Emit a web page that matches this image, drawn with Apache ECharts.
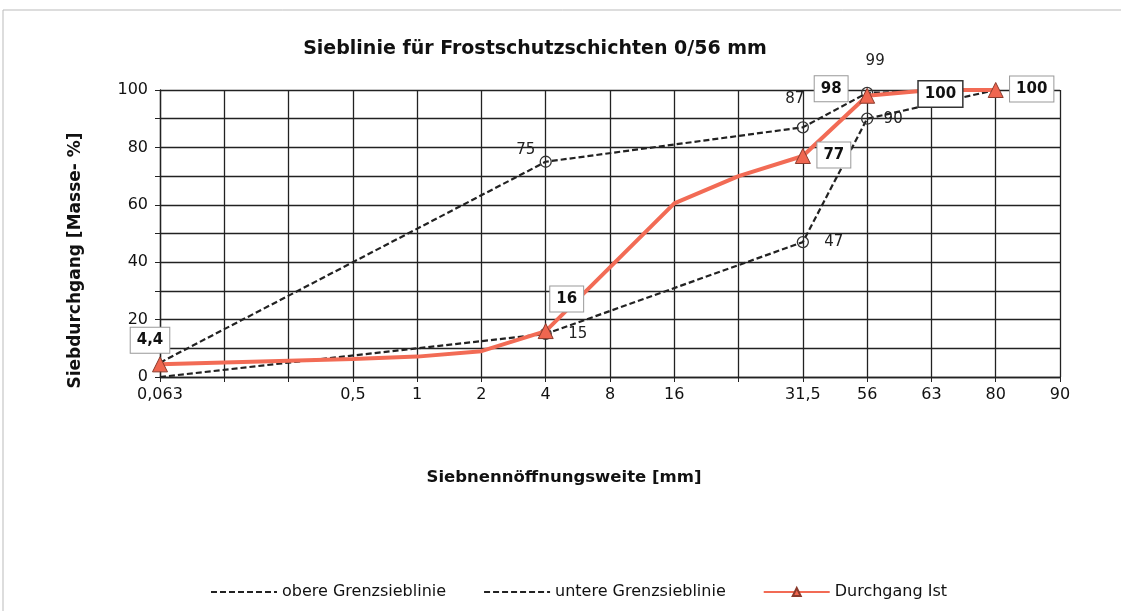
<!DOCTYPE html>
<html><head><meta charset="utf-8">
<script src="https://cdn.jsdelivr.net/npm/echarts@6/dist/echarts.min.js"></script>
<style>html,body{margin:0;padding:0;background:#fff}#c{width:1121px;height:611px}</style>
</head><body><div id="c"></div>
<script>
const sieveLabels = ['0,063','','','0,5','1','2','4','8','16','','31,5','56','63','80','90'];
const upperLimit = [5,null,null,null,null,null,75,null,null,null,87,99,null,100,null];
const lowerLimit = [0,null,null,null,null,null,15,null,null,null,47,90,null,100,null];
const actualPass = [4.4,null,null,6.3,7.1,9,16,null,60.5,70,77,98,100,100,null];

const FONT = '"DejaVu Sans", Arial, sans-serif';
// styling: which points show markers/labels, and label offsets
const upperMarks = {6:[-20,-12],10:[-8,-28],11:[8,-32],0:[17,-32]};
const lowerMarks = {6:[32,0],10:[31,0],11:[26,0]};
const actualMarks = {0:[-10,-24],6:[21,-32],10:[31,-1],11:[-36,-7],12:[9,4],13:[36,-1]};
const circleIdx = [6,10,11];
const triIdx = [0,6,10,11,12,13];

function blackData(vals, marks){
  return vals.map((v,i)=>{
    if(v===null) return null;
    const isC = circleIdx.includes(i);
    const o = {value:v, symbol: isC?'circle':'none'};
    if(isC) o.itemStyle = {color:'rgba(255,255,255,0)', borderColor:'#333', borderWidth:1.3};
    if(marks[i]) o.label = {show:true, offset:marks[i], position:'inside', formatter: String(v).replace('.',','), color:'#222', fontSize:15, fontFamily:FONT};
    return o;
  });
}
function redData(vals, marks){
  return vals.map((v,i)=>{
    if(v===null) return null;
    const o = {value:v, symbol: triIdx.includes(i)?'triangle':'none'};
    if(marks[i]) o.label = {show:true, offset:marks[i], position:'inside', formatter: String(v).replace('.',','),
      color:'#111', fontWeight:'bold', fontSize:15, fontFamily:FONT, backgroundColor:'#fff',
      borderColor: i===12?'#333':'#999', borderWidth: i===12?1.5:1, padding:[5,6,5,6]};
    return o;
  });
}

const chart = echarts.init(document.getElementById('c'), null, {renderer:'canvas'});
chart.setOption({
  backgroundColor:'#fff',
  animation:false,
  graphic:[{type:'rect', shape:{x:3,y:10,width:1130,height:620}, style:{fill:'none', stroke:'#bbb', lineWidth:1}, z:-1}],
  title:{text:'Sieblinie für Frostschutzschichten 0/56 mm', left:530, top:35, textAlign:'center',
    textStyle:{fontFamily:FONT, fontSize:19, fontWeight:'bold', color:'#111'}},
  grid:{left:160, right:61, top:90, bottom:234},
  legend:{top:579, left:205, itemWidth:66, itemHeight:10, itemGap:37,
    textStyle:{fontFamily:FONT, fontSize:16, color:'#111'},
    data:['obere Grenzsieblinie','untere Grenzsieblinie','Durchgang Ist']},
  xAxis:{type:'category', data:sieveLabels, boundaryGap:false,
    name:'Siebnennöffnungsweite [mm]', nameLocation:'middle', nameGap:92,
    nameTextStyle:{fontFamily:FONT, fontSize:16.5, fontWeight:'bold', color:'#111', padding:[0,92,0,0]},
    axisLine:{lineStyle:{color:'#222', width:1.3}},
    axisTick:{show:true, alignWithLabel:true, length:5, lineStyle:{color:'#222'}},
    axisLabel:{interval:0, fontFamily:FONT, fontSize:16, color:'#111', margin:10},
    splitLine:{show:true, interval:0, lineStyle:{color:'#222', width:1.3}}},
  yAxis:{type:'value', min:0, max:100, interval:10,
    name:'Siebdurchgang [Masse- %]', nameLocation:'middle', nameGap:76, nameRotate:90,
    nameTextStyle:{fontFamily:FONT, fontSize:17, fontWeight:'bold', color:'#111', padding:[0,54,0,0]},
    axisLine:{show:true, lineStyle:{color:'#222', width:1.3}},
    axisTick:{show:true, length:5, lineStyle:{color:'#222'}},
    axisLabel:{fontFamily:FONT, fontSize:16, color:'#111', margin:12, formatter:v=> v%20===0? String(v):''},
    splitLine:{lineStyle:{color:'#222', width:1.3}}},
  series:[
    {name:'obere Grenzsieblinie', type:'line', connectNulls:true, data:blackData(upperLimit, upperMarks),
      symbol:'circle', symbolSize:11, lineStyle:{color:'#222', width:2.2, type:[6,3]},
      itemStyle:{color:'rgba(255,255,255,0)', borderColor:'rgba(0,0,0,0)', borderWidth:0}, z:3},
    {name:'untere Grenzsieblinie', type:'line', connectNulls:true, data:blackData(lowerLimit, lowerMarks),
      symbol:'circle', symbolSize:11, lineStyle:{color:'#222', width:2.2, type:[6,3]},
      itemStyle:{color:'rgba(255,255,255,0)', borderColor:'rgba(0,0,0,0)', borderWidth:0}, z:3},
    {name:'Durchgang Ist', type:'line', connectNulls:true, data:redData(actualPass, actualMarks),
      symbol:'triangle', symbolSize:15, lineStyle:{color:'#f26b55', width:4},
      itemStyle:{color:'#ef6650', borderColor:'#8a3a2c', borderWidth:1}, z:4}
  ]
});
</script></body></html>
